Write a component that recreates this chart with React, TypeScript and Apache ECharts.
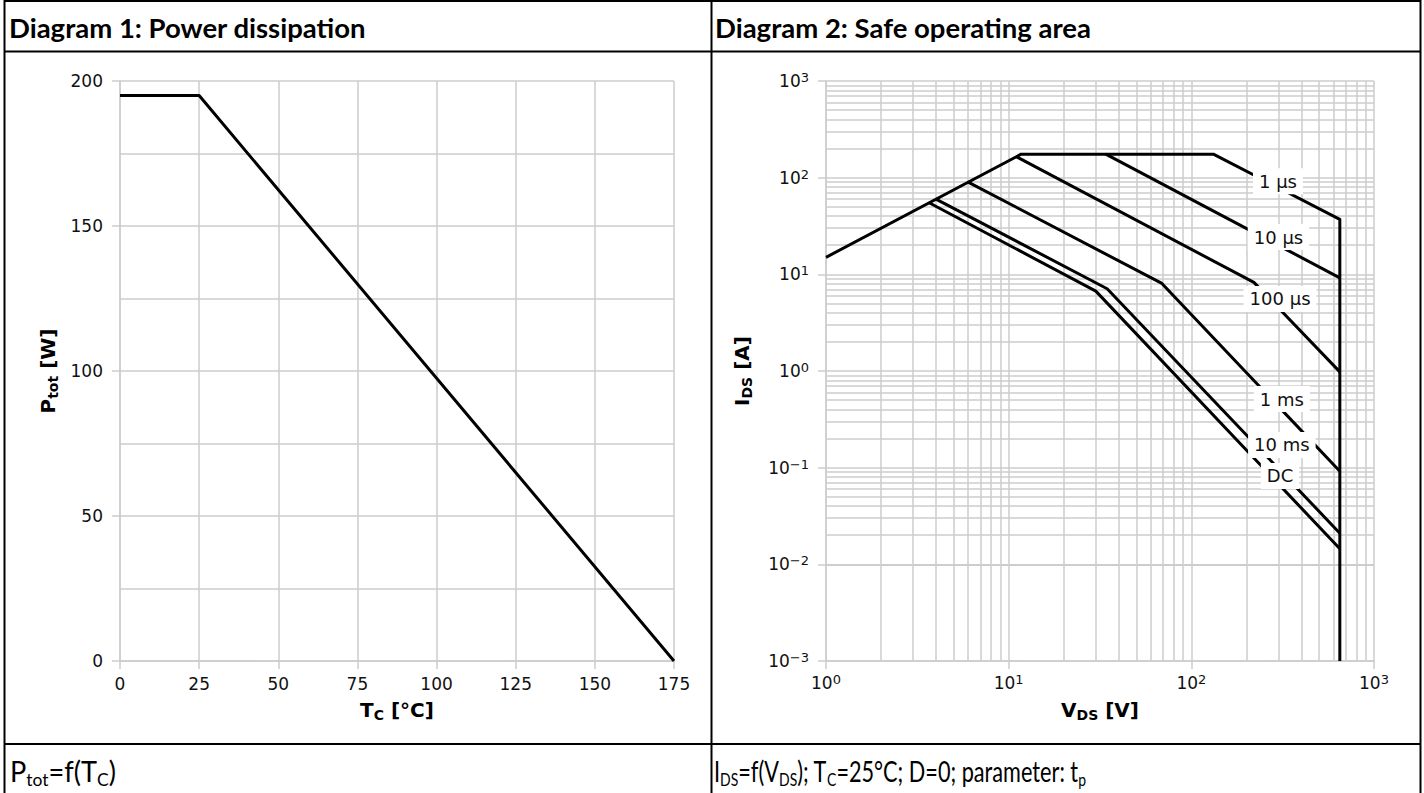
import React, { useEffect, useRef } from "react";
import * as echarts from "echarts";

// ---------- Diagram 1: power dissipation ----------
const tcValues = [0, 25, 175];
const ptotValues = [195, 195, 0];

// ---------- Diagram 2: safe operating area (V_DS [V], I_DS [A]) ----------
const soa1usV = [1, 11.7, 132, 650, 650];
const soa1usI = [15, 175, 175, 37, 0.001];
const soa10usV = [34, 650];
const soa10usI = [175, 9.2];
const soa100usV = [11, 220, 650];
const soa100usI = [165, 8.25, 0.98];
const soa1msV = [6.0, 69, 650];
const soa1msI = [90, 8.05, 0.092];
const soa10msV = [4.0, 34.6, 650];
const soa10msI = [60, 7.1, 0.021];
const soaDcV = [3.67, 30, 650];
const soaDcI = [55, 6.7, 0.0145];

const curveLabels = ["1 µs", "10 µs", "100 µs", "1 ms", "10 ms", "DC"];
const curveLabelV = [298, 300, 306, 313, 313, 306];
const curveLabelI = [92, 24.3, 5.56, 0.513, 0.172, 0.082];

const minorMantissas = [2, 3, 4, 5, 6, 7, 8, 9];
const vDecades = [1, 10, 100];
const iDecades = [0.001, 0.01, 0.1, 1, 10, 100];

const pair = (xs: number[], ys: number[]) => xs.map((x, i) => [x, ys[i]]);

const GRID_COLOR = "#cccccc";
const TICK_FONT = "DejaVu Sans";
const TITLE_FONT = "Lato";

const tickRich = {
  b: { fontSize: 17, fontFamily: TICK_FONT, color: "#111", lineHeight: 20 },
  s: { fontSize: 13, fontFamily: TICK_FONT, color: "#111", lineHeight: 10, verticalAlign: "top" },
};
const nameRich = {
  b: { fontSize: 20, fontFamily: TICK_FONT, fontWeight: "bold", color: "#000", lineHeight: 24 },
  s: { fontSize: 14, fontFamily: TICK_FONT, fontWeight: "bold", color: "#000", lineHeight: 14, verticalAlign: "bottom" },
};
const footRich = {
  a: { fontSize: 28, fontFamily: TITLE_FONT, color: "#000", lineHeight: 34 },
  s: { fontSize: 18, fontFamily: TITLE_FONT, color: "#000", lineHeight: 16, verticalAlign: "bottom" },
};

const powFmt = (v: number) => {
  const e = Math.round(Math.log10(v));
  return `{b|10}{s|${e < 0 ? "\u2212" + -e : e}}`;
};

const gridLine = { show: true, lineStyle: { color: GRID_COLOR, width: 1.5 } };
const axisLine = { show: true, lineStyle: { color: GRID_COLOR, width: 1.5 } };
const axisTick = { show: true, length: 8, lineStyle: { color: GRID_COLOR, width: 1.5 } };

function buildOption() {
  const minorV: number[] = [];
  vDecades.forEach((d) => minorMantissas.forEach((m) => minorV.push(d * m)));
  const minorI: number[] = [];
  iDecades.forEach((d) => minorMantissas.forEach((m) => minorI.push(d * m)));

  const soaLine = (name: string, xs: number[], ys: number[]) => ({
    name,
    type: "line",
    xAxisIndex: 1,
    yAxisIndex: 1,
    data: pair(xs, ys),
    symbol: "none",
    z: 3,
    silent: true,
    lineStyle: { color: "#000", width: 3, join: "round" },
  });

  return {
    animation: false,
    backgroundColor: "#ffffff",
    grid: [
      { left: 120, top: 81, width: 554, height: 580 },
      { left: 826, top: 81, width: 548, height: 580 },
    ],
    xAxis: [
      {
        type: "value",
        gridIndex: 0,
        min: 0,
        max: 175,
        interval: 25,
        axisLine,
        axisTick,
        splitLine: gridLine,
        axisLabel: { fontFamily: TICK_FONT, fontSize: 17, color: "#111", margin: 14 },
        name: "{b|T}{s|C}{b| [°C]}",
        nameLocation: "middle",
        nameGap: 37,
        nameTextStyle: { rich: nameRich },
      },
      {
        type: "log",
        logBase: 10,
        gridIndex: 1,
        min: 1,
        max: 1000,
        axisLine,
        axisTick,
        splitLine: gridLine,
        axisLabel: { formatter: powFmt, rich: tickRich, margin: 12 },
        name: "{b|V}{s|DS}{b| [V]}",
        nameLocation: "middle",
        nameGap: 37,
        nameTextStyle: { rich: nameRich },
      },
    ],
    yAxis: [
      {
        type: "value",
        gridIndex: 0,
        min: 0,
        max: 200,
        interval: 50,
        axisLine,
        axisTick,
        splitLine: gridLine,
        minorTick: { show: false, splitNumber: 2 },
        minorSplitLine: { show: true, lineStyle: { color: GRID_COLOR, width: 1.5 } },
        axisLabel: { fontFamily: TICK_FONT, fontSize: 17, color: "#111", margin: 17 },
        name: "{b|P}{s|tot}{b| [W]}",
        nameLocation: "middle",
        nameGap: 60,
        nameRotate: 90,
        nameTextStyle: { rich: nameRich },
      },
      {
        type: "log",
        logBase: 10,
        gridIndex: 1,
        min: 0.001,
        max: 1000,
        axisLine,
        axisTick,
        splitLine: gridLine,
        axisLabel: { formatter: powFmt, rich: tickRich, margin: 17 },
        name: "{b|I}{s|DS}{b| [A]}",
        nameLocation: "middle",
        nameGap: 72,
        nameRotate: 90,
        nameTextStyle: { rich: nameRich },
      },
    ],
    series: [
      {
        name: "Ptot",
        type: "line",
        xAxisIndex: 0,
        yAxisIndex: 0,
        data: pair(tcValues, ptotValues),
        symbol: "none",
        silent: true,
        z: 3,
        lineStyle: { color: "#000", width: 3 },
      },
      {
        name: "minor-grid",
        type: "line",
        xAxisIndex: 1,
        yAxisIndex: 1,
        data: [[1, 1]],
        symbol: "none",
        silent: true,
        z: 1,
        lineStyle: { width: 0, opacity: 0 },
        markLine: {
          z: 1,
          silent: true,
          symbol: ["none", "none"],
          label: { show: false },
          emphasis: { disabled: true },
          lineStyle: { color: GRID_COLOR, width: 1.5, type: "solid" },
          data: [
            ...minorV.map((v) => ({ xAxis: v })),
            ...minorI.map((v) => ({ yAxis: v })),
          ],
        },
      },
      soaLine("1 µs", soa1usV, soa1usI),
      soaLine("10 µs", soa10usV, soa10usI),
      soaLine("100 µs", soa100usV, soa100usI),
      soaLine("1 ms", soa1msV, soa1msI),
      soaLine("10 ms", soa10msV, soa10msI),
      soaLine("DC", soaDcV, soaDcI),
      {
        name: "labels",
        type: "custom",
        xAxisIndex: 1,
        yAxisIndex: 1,
        coordinateSystem: "cartesian2d",
        z: 20,
        silent: true,
        data: curveLabels.map((n, i) => [curveLabelV[i], curveLabelI[i], i]),
        renderItem: (params: any, api: any) => {
          const pt = api.coord([api.value(0), api.value(1)]);
          const idx = api.value(2);
          return {
            type: "text",
            x: pt[0],
            y: pt[1],
            z2: 100,
            style: {
              text: curveLabels[idx],
              fontFamily: TICK_FONT,
              fontSize: 18,
              fill: "#111",
              align: "center",
              verticalAlign: "middle",
              backgroundColor: "#ffffff",
              padding: [4, 6],
            },
          };
        },
      },
    ],
    graphic: [
      {
        type: "rect",
        silent: true,
        shape: { x: 4.5, y: 1, width: 1416, height: 830 },
        style: { fill: "none", stroke: "#000", lineWidth: 2 },
      },
      {
        type: "line",
        silent: true,
        shape: { x1: 4.5, y1: 51.5, x2: 1420.5, y2: 51.5 },
        style: { stroke: "#000", lineWidth: 2 },
      },
      {
        type: "line",
        silent: true,
        shape: { x1: 4.5, y1: 744, x2: 1420.5, y2: 744 },
        style: { stroke: "#000", lineWidth: 2 },
      },
      {
        type: "line",
        silent: true,
        shape: { x1: 711.5, y1: 1, x2: 711.5, y2: 830 },
        style: { stroke: "#000", lineWidth: 2 },
      },
      {
        type: "text",
        silent: true,
        x: 9,
        y: 27,
        style: {
          text: "Diagram 1: Power dissipation",
          fontFamily: TITLE_FONT,
          fontWeight: "bold",
          fontSize: 27.5,
          fill: "#000",
          verticalAlign: "middle",
        },
      },
      {
        type: "text",
        silent: true,
        x: 715,
        y: 27,
        style: {
          text: "Diagram 2: Safe operating area",
          fontFamily: TITLE_FONT,
          fontWeight: "bold",
          fontSize: 27.5,
          fill: "#000",
          verticalAlign: "middle",
        },
      },
      {
        type: "text",
        silent: true,
        x: 10,
        y: 771,
        scaleX: 0.97,
        style: {
          text: "{a|P}{s|tot}{a|=f(T}{s|C}{a|)}",
          rich: footRich,
          verticalAlign: "middle",
        },
      },
      {
        type: "text",
        silent: true,
        x: 714,
        y: 771,
        scaleX: 0.775,
        style: {
          text: "{a|I}{s|DS}{a|=f(V}{s|DS}{a|); T}{s|C}{a|=25°C; D=0; parameter: t}{s|p}",
          rich: footRich,
          verticalAlign: "middle",
        },
      },
    ],
  };
}

export default function App() {
  const ref = useRef<HTMLDivElement>(null);
  useEffect(() => {
    if (!ref.current) return;
    const chart = echarts.init(ref.current, undefined, { renderer: "svg" });
    chart.setOption(buildOption() as any);
    return () => chart.dispose();
  }, []);
  return (
    <div
      ref={ref}
      style={{ position: "absolute", left: 0, top: 0, width: 1424, height: 793, background: "#fff" }}
    />
  );
}
